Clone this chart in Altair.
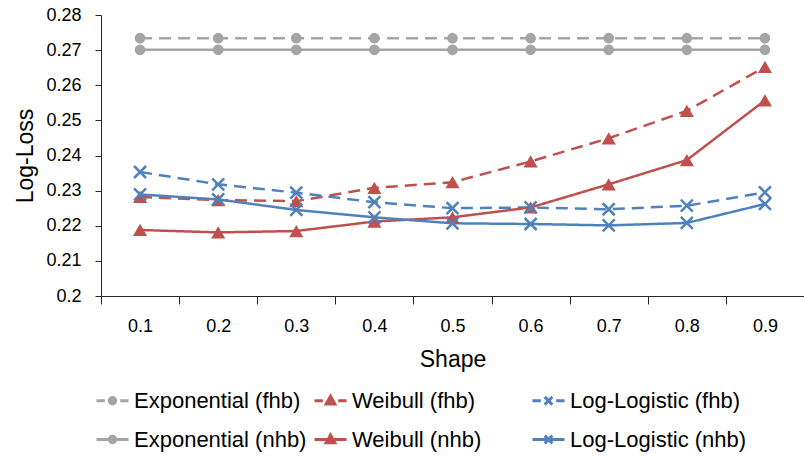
import altair as alt
import pandas as pd

shape_labels = ["0.1", "0.2", "0.3", "0.4", "0.5", "0.6", "0.7", "0.8", "0.9"]

exp_fhb = [0.2734, 0.2734, 0.2734, 0.2734, 0.2734, 0.2734, 0.2734, 0.2734, 0.2734]
exp_nhb = [0.2701, 0.2701, 0.2701, 0.2701, 0.2701, 0.2701, 0.2701, 0.2701, 0.2701]
weib_fhb = [0.2282, 0.2273, 0.2270, 0.2308, 0.2324, 0.2383, 0.2449, 0.2527, 0.2652]
weib_nhb = [0.2188, 0.2181, 0.2185, 0.2212, 0.2224, 0.2252, 0.2318, 0.2387, 0.2557]
ll_fhb = [0.2353, 0.2318, 0.2294, 0.2267, 0.2250, 0.2252, 0.2247, 0.2257, 0.2295]
ll_nhb = [0.2289, 0.2275, 0.2245, 0.2224, 0.2207, 0.2205, 0.2201, 0.2208, 0.2262]

series_names = [
    "Exponential (fhb)", "Weibull (fhb)", "Log-Logistic (fhb)",
    "Exponential (nhb)", "Weibull (nhb)", "Log-Logistic (nhb)",
]
series_models = ["Exponential", "Weibull", "Log-Logistic",
                 "Exponential", "Weibull", "Log-Logistic"]
series_values = [exp_fhb, weib_fhb, ll_fhb, exp_nhb, weib_nhb, ll_nhb]

GRAY, RED, BLUE = "#A5A5A5", "#C0504D", "#4F81BD"
series_colors = [GRAY, RED, BLUE, GRAY, RED, BLUE]
DASH, SOLID = [12, 7], [1, 0]
series_dashes = [DASH, DASH, DASH, SOLID, SOLID, SOLID]

circ = "M-0.2,0A0.2,0.2,0,1,0,0.2,0A0.2,0.2,0,1,0,-0.2,0Z"
tri = "M0,-0.28L0.27,0.2L-0.27,0.2Z"
xx = "M-0.24,-0.24L0.24,0.24M-0.24,0.24L0.24,-0.24"
dashed_line = "M-1,0L-0.48,0M0.48,0L1,0"
solid_line = "M-1,0L1,0"
legend_paths = [
    dashed_line + circ, dashed_line + tri, dashed_line + xx,
    solid_line + circ, solid_line + tri, solid_line + xx,
]

rows = []
for name, model, vals in zip(series_names, series_models, series_values):
    for s, v in zip(shape_labels, vals):
        rows.append({"shape": s, "value": v, "series": name, "model": model})
df = pd.DataFrame(rows)

FONT = "Liberation Sans"

x_enc = alt.X(
    "shape:N",
    scale=alt.Scale(type="band", domain=shape_labels, paddingInner=0, paddingOuter=0),
    axis=alt.Axis(title="Shape", labelAngle=0, tickBand="extent", tickSize=8,
                  labelPadding=13, titleBaseline="alphabetic", titleY=70),
)
y_enc = alt.Y(
    "value:Q",
    scale=alt.Scale(domain=[0.2, 0.28], nice=False, zero=False),
    axis=alt.Axis(title="Log-Loss", values=[0.2, 0.21, 0.22, 0.23, 0.24, 0.25, 0.26, 0.27, 0.28],
                  format=".2~f", tickSize=6, labelPadding=14,
                  titleBaseline="alphabetic", titleX=-69),
)
# hidden-legend scales get a distinct (padded) domain so they do not merge with the shown legend
color_scale = alt.Scale(domain=series_names + ["-"], range=series_colors + ["#000000"])
dash_scale = alt.Scale(domain=series_names + ["-"], range=series_dashes + [SOLID])

base = alt.Chart(df)

lines = base.mark_line(strokeWidth=2.5).encode(
    x=x_enc, y=y_enc,
    color=alt.Color("series:N", scale=color_scale, legend=None),
    strokeDash=alt.StrokeDash("series:N", scale=dash_scale, legend=None),
)

circles = base.transform_filter("datum.model == 'Exponential'").mark_point(
    shape="circle", filled=True, size=115, opacity=1
).encode(x=x_enc, y=y_enc, color=alt.Color("series:N", scale=color_scale, legend=None))

triangles = base.transform_filter("datum.model == 'Weibull'").mark_point(
    shape="triangle-up", filled=True, size=200, opacity=1
).encode(x=x_enc, y=y_enc, color=alt.Color("series:N", scale=color_scale, legend=None))

crosses = base.transform_filter("datum.model == 'Log-Logistic'").mark_point(
    shape="M-1,-1L1,1M-1,1L1,-1", filled=False, size=144, strokeWidth=2.5, opacity=1
).encode(x=x_enc, y=y_enc, color=alt.Color("series:N", scale=color_scale, legend=None))

leg = dict(
    orient="none", legendX=-6, legendY=368, columns=3, direction="horizontal", title=None,
    labelFont=FONT, labelFontSize=22, labelColor="#000000", labelLimit=400, labelOffset=4,
    symbolSize=1024, symbolStrokeWidth=3, symbolOpacity=1, rowPadding=10, columnPadding=-3,
    gridAlign="all", padding=0,
)
legend_layer = base.transform_filter("false").mark_point(filled=True, opacity=1, strokeWidth=3).encode(
    x=x_enc, y=y_enc,
    fill=alt.Fill("series:N", scale=alt.Scale(domain=series_names, range=series_colors), legend=alt.Legend(**leg)),
    stroke=alt.Stroke("series:N", scale=alt.Scale(domain=series_names, range=series_colors), legend=alt.Legend(**leg)),
    shape=alt.Shape("series:N", scale=alt.Scale(domain=series_names, range=legend_paths), legend=alt.Legend(**leg)),
)

chart = alt.layer(lines, circles, triangles, crosses, legend_layer).properties(
    width=703, height=281,
    autosize=alt.AutoSizeParams(type="none"),
    padding={"left": 101, "top": 15, "right": 0, "bottom": 161},
    background="white",
).configure_view(stroke=None).configure_axis(
    grid=False, domainColor="#262626", tickColor="#262626", domainWidth=1, tickWidth=1,
    labelFont=FONT, labelFontSize=18, labelColor="#000000",
    titleFont=FONT, titleFontSize=23, titleColor="#000000", titleFontWeight="normal",
)

chart.save("out.html", embed_options={"renderer": "svg", "actions": False})
